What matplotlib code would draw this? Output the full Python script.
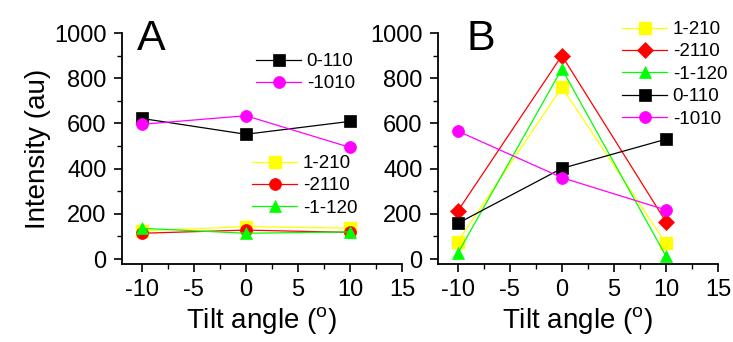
import matplotlib
matplotlib.use("Agg")
import matplotlib.pyplot as plt
from matplotlib.ticker import MultipleLocator

plt.rcParams['font.family'] = ['Liberation Sans', 'DejaVu Sans']
plt.rcParams['mathtext.fontset'] = 'custom'
plt.rcParams['mathtext.rm'] = 'Liberation Sans'

tilt = [-10, 0, 10]

# Panel A
a_0110 = [622, 552, 609]
a_m1010 = [596, 634, 494]
a_1210 = [125, 143, 137]
a_m2110 = [114, 128, 118]
a_m1120 = [136, 114, 120]

# Panel B
b_1210 = [77, 760, 69]
b_m2110 = [212, 900, 165]
b_m1120 = [25, 841, 13]
b_0110 = [158, 401, 530]
b_m1010 = [566, 360, 217]

labels = {'0110': '0-110', 'm1010': '-1010', '1210': '1-210',
          'm2110': '-2110', 'm1120': '-1-120'}

fig = plt.figure(figsize=(7.33, 3.42), dpi=100)
W, H = 733, 342
axA = fig.add_axes([122 / W, 78 / H, 280 / W, 231 / H])
axB = fig.add_axes([438 / W, 78 / H, 280 / W, 231 / H])

lw = 0.9
sty = dict(lw=lw, markeredgewidth=0.5)
ms_sq = 8.0
ms_ci = 8.6
ms_tr = 9.0
ms_di = 8.0

def style(ax):
    ax.set_xlim(-11.9, 15)
    ax.set_ylim(-22, 1000)
    for s in ['top', 'right']:
        ax.spines[s].set_visible(False)
    for s in ['left', 'bottom']:
        ax.spines[s].set_linewidth(1.3)
    ax.xaxis.set_major_locator(MultipleLocator(5))
    ax.xaxis.set_minor_locator(MultipleLocator(2.5))
    ax.yaxis.set_major_locator(MultipleLocator(200))
    ax.yaxis.set_minor_locator(MultipleLocator(100))
    ax.tick_params(which='major', direction='out', length=6, width=1.2,
                   labelsize=17, pad=5)
    ax.tick_params(which='minor', direction='out', length=3.5, width=1.0)
    ax.set_xticks([-10, -5, 0, 5, 10, 15])
    ax.set_xticklabels(['-10', '-5', '0', '5', '10', '15'])
    ax.set_xlabel(r'Tilt angle ($^{\rm o}$)', fontsize=20, labelpad=3)

# Panel A
h1, = axA.plot(tilt, a_0110, color='black', marker='s', ms=ms_sq, label=labels['0110'], **sty)
h2, = axA.plot(tilt, a_m1010, color='#FF00FF', marker='o', ms=ms_ci, label=labels['m1010'], **sty)
h3, = axA.plot(tilt, a_1210, color='#FFFF00', marker='s', ms=ms_sq, markeredgecolor='#FFFF00', label=labels['1210'], lw=lw)
h4, = axA.plot(tilt, a_m2110, color='#FF0000', marker='o', ms=ms_ci, label=labels['m2110'], **sty)
h5, = axA.plot(tilt, a_m1120, color='#00FF00', marker='^', ms=ms_tr, label=labels['m1120'], **sty)
style(axA)
axA.set_ylabel('Intensity (au)', fontsize=20, labelpad=2)
axA.text(137 / W, 1 - 50 / H, 'A', transform=fig.transFigure, fontsize=31,
         ha='left', va='baseline')

legkw = dict(frameon=False, fontsize=13.5, handlelength=2.4, handletextpad=0.3,
             labelspacing=0.28, borderpad=0, borderaxespad=0)
legA1 = axA.legend(handles=[h1, h2], bbox_to_anchor=(256 / W, 1 - 53 / H),
                   bbox_transform=fig.transFigure, loc='upper left', **legkw)
axA.add_artist(legA1)
axA.legend(handles=[h3, h4, h5], bbox_to_anchor=(252 / W, 1 - 155 / H),
           bbox_transform=fig.transFigure, loc='upper left', **legkw)

# Panel B
g1, = axB.plot(tilt, b_1210, color='#FFFF00', marker='s', ms=ms_sq, markeredgecolor='#FFFF00', label=labels['1210'], lw=lw)
g2, = axB.plot(tilt, b_m2110, color='#FF0000', marker='D', ms=ms_di, label=labels['m2110'], **sty)
g3, = axB.plot(tilt, b_m1120, color='#00FF00', marker='^', ms=ms_tr, label=labels['m1120'], **sty)
g4, = axB.plot(tilt, b_0110, color='black', marker='s', ms=ms_sq, label=labels['0110'], **sty)
g5, = axB.plot(tilt, b_m1010, color='#FF00FF', marker='o', ms=ms_ci, label=labels['m1010'], **sty)
style(axB)
axB.text(466 / W, 1 - 50 / H, 'B', transform=fig.transFigure, fontsize=31,
         ha='left', va='baseline')
axB.legend(handles=[g1, g2, g3, g4, g5], bbox_to_anchor=(622 / W, 1 - 21 / H),
           bbox_transform=fig.transFigure, loc='upper left', **legkw)

fig.savefig('out.png', dpi=100)
